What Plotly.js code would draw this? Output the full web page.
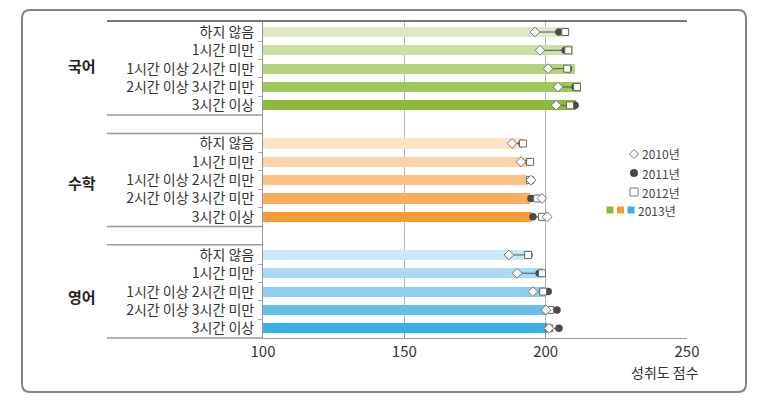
<!DOCTYPE html>
<html><head><meta charset="utf-8">
<script src="https://cdn.plot.ly/plotly-3.0.1.min.js"></script>
<style>html,body{margin:0;padding:0;background:#fff}#chart{width:766px;height:409px}</style>
</head><body><div id="chart"></div>
<script>
// ---- data ----
const subjects = ['국어', '수학', '영어'];
const categories = ['하지 않음', '1시간 미만', '1시간 이상 2시간 미만', '2시간 이상 3시간 미만', '3시간 이상'];
const score2010 = [196.2, 198.0, 200.9, 204.4, 203.7,  188.1, 191.3, 194.8, 198.7, 200.5,  187.0, 189.9, 195.5, 200.1, 201.2];
const score2011 = [204.7, 206.9, 208.0, 210.4, 210.4,  191.6, 194.1, 194.5, 194.8, 195.5,  194.1, 197.7, 200.9, 204.0, 204.7];
const score2012 = [206.9, 208.0, 207.6, 211.1, 208.6,  192.0, 194.5, 194.5, 197.0, 198.7,  193.8, 198.7, 199.1, 201.6, 201.2];
const score2013 = [208.3, 209.7, 210.4, 212.5, 210.8,  191.5, 193.5, 193.5, 194.5, 195.2,  194.5, 199.1, 199.8, 200.5, 200.5];
const xTickVals = [100, 150, 200, 250];
const yearLabels = ['2010년', '2011년', '2012년', '2013년'];
const xTitle = '성취도 점수';

// ---- style ----
const barColors = [
  '#dfe9c8', '#cbe0a5', '#b5d37e', '#a0c75a', '#8ebb3c',
  '#fde4c8', '#fcd3a6', '#fbc184', '#f9ad5d', '#f89a36',
  '#cbe8f7', '#abdbf3', '#8dcff0', '#64c0ea', '#3cb0e4'
];
const legendColors = ['#8ebb3c', '#f89a36', '#3cb0e4'];
const FONT = '"Noto Sans CJK KR", "Noto Sans", sans-serif';
const GROUP_GAP = 6.08;

// row positions
const ypos = [], ticktext = [], minorVals = [], groupCenters = [];
subjects.forEach((s, g) => {
  categories.forEach((c, i) => { ypos.push(g * GROUP_GAP + i); ticktext.push(c); });
  for (let i = 0; i < categories.length - 1; i++) minorVals.push(g * GROUP_GAP + i + 0.5);
  groupCenters.push(g * GROUP_GAP + (categories.length - 1) / 2);
});

// connector line built from the data
const lx = [], ly = [];
ypos.forEach((y, k) => {
  const vals = [score2010[k], score2011[k], score2012[k]];
  lx.push(Math.min(...vals), Math.max(...vals), null);
  ly.push(y, y, null);
});

const traces = [
  { type: 'bar', orientation: 'h', x: score2013, y: ypos, width: 0.55,
    marker: { color: barColors }, name: yearLabels[3], hoverinfo: 'x' },
  { type: 'scatter', mode: 'lines', x: lx, y: ly, line: { color: '#555', width: 1 }, hoverinfo: 'skip' },
  { type: 'scatter', mode: 'markers', x: score2011, y: ypos, name: yearLabels[1],
    marker: { symbol: 'circle', size: 7.5, color: '#4a4a4a', line: { width: 0 } } },
  { type: 'scatter', mode: 'markers', x: score2012, y: ypos, name: yearLabels[2],
    marker: { symbol: 'square', size: 7, color: '#ffffff', line: { color: '#666', width: 1 } } },
  { type: 'scatter', mode: 'markers', x: score2010, y: ypos, name: yearLabels[0],
    marker: { symbol: 'diamond', size: 7.5, color: '#ffffff', line: { color: '#777', width: 1 } } }
];

// pixel -> paper helpers (plot area 263..687 x, 21..338 y)
const L = 263, R = 79, T = 21, B = 71, W = 766 - L - R, H = 409 - T - B;
const px = v => (v - L) / W;
const py = v => (409 - B - v) / H;

const shapes = [];
// frame (rounded)
(function () {
  const x0 = 22, x1 = 746, y0 = 10, y1 = 392, r = 8;
  const p = `M ${px(x0 + r)} ${py(y0)} L ${px(x1 - r)} ${py(y0)} Q ${px(x1)} ${py(y0)} ${px(x1)} ${py(y0 + r)} ` +
            `L ${px(x1)} ${py(y1 - r)} Q ${px(x1)} ${py(y1)} ${px(x1 - r)} ${py(y1)} ` +
            `L ${px(x0 + r)} ${py(y1)} Q ${px(x0)} ${py(y1)} ${px(x0)} ${py(y1 - r)} ` +
            `L ${px(x0)} ${py(y0 + r)} Q ${px(x0)} ${py(y0)} ${px(x0 + r)} ${py(y0)} Z`;
  shapes.push({ type: 'path', xref: 'paper', yref: 'paper', path: p, line: { color: '#858585', width: 2 }, layer: 'below' });
})();
const leftEdge = px(107);
// top line
shapes.push({ type: 'line', xref: 'paper', yref: 'paper', x0: leftEdge, x1: px(687), y0: 1, y1: 1, line: { color: '#777', width: 2 } });
// bottom line in left margin
shapes.push({ type: 'line', xref: 'paper', yref: 'paper', x0: leftEdge, x1: 0, y0: 0, y1: 0, line: { color: '#999', width: 1.5 } });
// group separators
subjects.forEach((s, g) => {
  const first = g * GROUP_GAP, last = g * GROUP_GAP + categories.length - 1;
  if (g > 0) shapes.push({ type: 'line', xref: 'paper', yref: 'y', x0: leftEdge, x1: 0, y0: first - 0.55, y1: first - 0.55, line: { color: '#999', width: 1.5 } });
  if (g < subjects.length - 1) shapes.push({ type: 'line', xref: 'paper', yref: 'y', x0: leftEdge, x1: 0, y0: last + 0.53, y1: last + 0.53, line: { color: '#999', width: 1.5 } });
});
// legend symbols
const lgY = [154, 173, 192, 210], lgX = 634;
shapes.push({ type: 'path', xref: 'paper', yref: 'paper',
  path: `M ${px(lgX - 4.5)} ${py(lgY[0])} L ${px(lgX)} ${py(lgY[0] - 4.5)} L ${px(lgX + 4.5)} ${py(lgY[0])} L ${px(lgX)} ${py(lgY[0] + 4.5)} Z`,
  fillcolor: '#fff', line: { color: '#777', width: 1 } });
shapes.push({ type: 'circle', xref: 'paper', yref: 'paper', x0: px(lgX - 4), x1: px(lgX + 4), y0: py(lgY[1] + 4), y1: py(lgY[1] - 4),
  fillcolor: '#4a4a4a', line: { width: 0 } });
shapes.push({ type: 'rect', xref: 'paper', yref: 'paper', x0: px(lgX - 4), x1: px(lgX + 4), y0: py(lgY[2] + 4), y1: py(lgY[2] - 4),
  fillcolor: '#fff', line: { color: '#777', width: 1 } });
legendColors.forEach((c, i) => {
  const cx = 610 + i * 10.5;
  shapes.push({ type: 'rect', xref: 'paper', yref: 'paper', x0: px(cx - 3.5), x1: px(cx + 3.5), y0: py(lgY[3] + 3.5), y1: py(lgY[3] - 3.5),
    fillcolor: c, line: { width: 0 } });
});

const annotations = [];
const groupShift = [3, -2, -5];
subjects.forEach((s, g) => annotations.push({ xref: 'paper', yref: 'y', x: px(82), y: groupCenters[g], yshift: groupShift[g],
  text: '<b>' + s + '</b>', showarrow: false, xanchor: 'center', yanchor: 'middle', font: { family: FONT, size: 15, color: '#222' } }));
yearLabels.forEach((t, i) => annotations.push({ xref: 'paper', yref: 'paper', x: px(i === 3 ? 636 : 640), y: py(lgY[i]),
  text: t, showarrow: false, xanchor: 'left', yanchor: 'middle', font: { family: FONT, size: 12, color: '#444' } }));
annotations.push({ xref: 'paper', yref: 'paper', x: px(701), y: py(372), text: xTitle, showarrow: false,
  xanchor: 'right', yanchor: 'middle', font: { family: FONT, size: 14, color: '#333' } });

const layout = {
  width: 766, height: 409,
  margin: { l: L, r: R, t: T, b: B, pad: 0 },
  paper_bgcolor: '#fff', plot_bgcolor: '#fff',
  showlegend: false,
  font: { family: FONT },
  xaxis: {
    range: [100, 250], tickvals: xTickVals, ticks: 'inside', ticklen: 5, tickcolor: '#999',
    showgrid: false, zeroline: false, showline: true, linecolor: '#999', linewidth: 1,
    tickfont: { family: FONT, size: 15, color: '#333' },
    minor: { tickvals: [150, 200], showgrid: true, gridcolor: '#b5b5b5', gridwidth: 1, ticks: '' }
  },
  yaxis: {
    range: [16.69, -0.6], tickvals: ypos, ticktext: ticktext, ticks: '',
    showgrid: false, zeroline: false, showline: true, linecolor: '#999', linewidth: 1,
    tickfont: { family: FONT, size: 14, color: '#333' }, ticklabelstandoff: 5,
    minor: { tickvals: minorVals, ticks: 'outside', ticklen: 4, tickcolor: '#aaa', showgrid: false }
  },
  shapes: shapes,
  annotations: annotations,
  bargap: 0
};

Plotly.newPlot('chart', traces, layout, { displayModeBar: false, staticPlot: true });
</script>
</body></html>
